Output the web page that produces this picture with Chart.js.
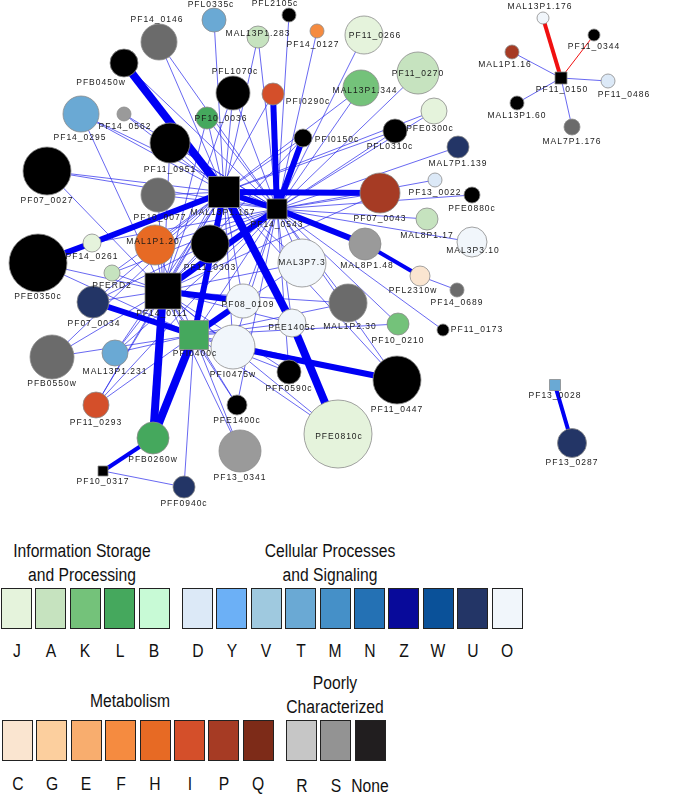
<!DOCTYPE html>
<html>
<head>
<meta charset="utf-8">
<script src="https://cdn.jsdelivr.net/npm/chart.js@4.4.1/dist/chart.umd.min.js"></script>
<style>
body { margin: 0; background: #fff; width: 685px; height: 794px; position: relative; overflow: hidden; font-family: "Liberation Sans", Arial, sans-serif; }
#wrap { position: absolute; left: 0; top: 0; width: 685px; height: 515px; }
.box { position: absolute; box-sizing: border-box; width: 31px; height: 41px; border: 1.5px solid #222; }
.txt { position: absolute; font-size: 18px; color: #111; transform: translate(-50%, -50%) scaleX(0.87); white-space: nowrap; }
</style>
</head>
<body>
<div id="wrap"><canvas id="netChart"></canvas></div>
<div id="legend"></div>
<script>
// network layout (node coordinates)
const nodeNames = [
    "PFL0335c", "PFL2105c", "MAL13P1.283", "PF14_0127", "PF11_0266", "PF14_0146",
    "PFB0450w", "PF14_0295", "PF14_0562", "PF10_0036", "PFL1070c", "PFI0290c",
    "MAL13P1.344", "PF11_0270", "PFE0300c", "PFL0310c", "PFI0150c", "MAL7P1.139",
    "PF11_0951", "PF07_0027", "PF10_0077", "MAL13P1.167", "PF14_0543", "PF07_0043",
    "PF13_0022", "PFE0880c", "MAL8P1.17", "MAL3P3.10", "PF14_0261", "MAL1P1.20",
    "PF11_0303", "PFE0350c", "PFERD2", "PF14_0111", "MAL3P7.3", "MAL8P1.48",
    "PFL2310w", "PF14_0689", "PF07_0034", "PF08_0109", "PFE1405c", "MAL1P2.30",
    "PF10_0210", "PF11_0173", "PFB0550w", "MAL13P1.231", "PFI0400c", "PFI0475w",
    "PFF0590c", "PF11_0447", "PFE1400c", "PFE0810c", "PF11_0293", "PFB0260w",
    "PF13_0341", "PF10_0317", "PFF0940c", "MAL13P1.176", "PF11_0344", "MAL1P1.16",
    "PF11_0150", "PF11_0486", "MAL13P1.60", "MAL7P1.176", "PF13_0028", "PF13_0287"
];
const nodeX = [
    214, 289, 258, 317, 364, 159,
    124, 81, 124, 207, 233, 273,
    361, 418, 434, 395, 303, 458,
    170, 47, 158, 224, 277, 380,
    435, 472, 427, 472, 92, 155,
    210, 38, 112, 163, 302, 365,
    420, 457, 93, 243, 292, 348,
    398, 443, 52, 115, 194, 233,
    289, 397, 237, 338, 96, 153,
    240, 103, 184, 543, 594, 512,
    561, 608, 517, 572, 555, 572
];
const nodeY = [
    20, 15, 37, 31, 35, 42,
    63, 114, 114, 118, 93, 94,
    88, 73, 111, 131, 138, 147,
    143, 171, 195, 192, 209, 193,
    180, 195, 219, 242, 243, 245,
    244, 263, 273, 291, 263, 244,
    276, 290, 302, 301, 323, 303,
    324, 330, 357, 353, 335, 347,
    372, 380, 405, 434, 405, 438,
    451, 471, 487, 18, 35, 52,
    78, 81, 103, 127, 385, 443
];
const nodeValue = [
    12, 7, 11, 7, 19, 18,
    14, 18, 7, 11, 17, 11,
    18, 21, 13, 12, 9, 11,
    20, 24, 17, 15.5, 10, 20,
    7, 8, 11, 15, 9, 20,
    19, 29, 8, 18, 24, 16,
    10, 7, 16, 17, 14, 19,
    11, 6, 22, 13, 14.5, 22,
    12, 24, 10, 34, 13, 16,
    21, 5, 11, 6, 6, 7,
    6, 7, 7, 8, 5.5, 14.5
];
const nodeCategory = [
    "T", "None", "A", "F", "J", "S",
    "None", "T", "R", "L", "None", "I",
    "K", "A", "J", "None", "None", "U",
    "None", "None", "S", "None", "None", "P",
    "D", "None", "A", "O", "J", "H",
    "None", "None", "A", "None", "O", "R",
    "C", "S", "U", "O", "O", "S",
    "K", "None", "S", "T", "L", "O",
    "None", "None", "None", "J", "I", "L",
    "R", "None", "U", "O", "None", "P",
    "None", "D", "None", "S", "T", "U"
];
const squareNodes = ["MAL13P1.167", "PF14_0543", "PF14_0111", "PFI0400c", "PF10_0317", "PF11_0150", "PF13_0028"];

// interactions: [from, to, weight]; negative weight = red link
const thickEdges = [
    ["PFB0450w", "MAL13P1.167", 4],
    ["MAL13P1.167", "PF07_0043", 3],
    ["MAL13P1.167", "PF14_0543", 3],
    ["PFI0290c", "PF14_0543", 3],
    ["PFI0150c", "PF14_0543", 3],
    ["PF14_0543", "MAL8P1.48", 3],
    ["MAL8P1.48", "PFL2310w", 2],
    ["MAL13P1.167", "PFE1405c", 4],
    ["PFE1405c", "PFE0810c", 4],
    ["PFE0350c", "PF14_0261", 3],
    ["PF14_0261", "MAL13P1.167", 3],
    ["PF14_0111", "PF14_0543", 3],
    ["PF14_0111", "PF08_0109", 3],
    ["PF07_0034", "PFI0400c", 3],
    ["PF14_0111", "PFB0260w", 4],
    ["PFI0400c", "PFB0260w", 4],
    ["PFB0260w", "PF10_0317", 2],
    ["PFI0400c", "MAL13P1.167", 3],
    ["PFI0400c", "PF08_0109", 3],
    ["PFI0475w", "PF11_0447", 3],
    ["PF13_0028", "PF13_0287", 2],
    ["PF11_0150", "MAL13P1.176", -2],
    ["PF11_0150", "PF11_0344", -1]
];
const thinEdges = [
    ["PFL0335c", "MAL13P1.167"], ["PFL2105c", "PF14_0543"],
    ["MAL13P1.283", "PF14_0543"], ["MAL13P1.283", "MAL13P1.167"],
    ["PF14_0127", "PF14_0543"], ["PF11_0266", "PF14_0543"],
    ["PF14_0146", "MAL13P1.167"], ["PF14_0146", "PF14_0543"],
    ["PFB0450w", "PF14_0543"],
    ["PF14_0295", "MAL13P1.167"], ["PF14_0295", "PF14_0543"], ["PF14_0295", "PF14_0111"],
    ["PF14_0562", "MAL13P1.167"], ["PF14_0562", "PF14_0543"],
    ["PF10_0036", "MAL13P1.167"], ["PF10_0036", "PF14_0543"], ["PF10_0036", "PF14_0111"],
    ["PFL1070c", "MAL13P1.167"], ["PFL1070c", "PF14_0543"], ["PFL1070c", "PF14_0111"],
    ["PFI0290c", "PF14_0111"],
    ["MAL13P1.344", "PF14_0543"], ["MAL13P1.344", "MAL13P1.167"],
    ["PF11_0270", "PF14_0543"],
    ["PFE0300c", "PF14_0543"], ["PFE0300c", "MAL13P1.167"],
    ["PFL0310c", "PF14_0543"], ["PFL0310c", "MAL13P1.167"],
    ["PFI0150c", "PF14_0111"], ["PFI0150c", "MAL13P1.167"],
    ["MAL7P1.139", "PF14_0543"],
    ["PF11_0951", "MAL13P1.167"], ["PF11_0951", "PF14_0543"], ["PF11_0951", "PF14_0111"],
    ["PF07_0027", "MAL13P1.167"], ["PF07_0027", "PF14_0543"], ["PF07_0027", "PF14_0111"],
    ["PF10_0077", "MAL13P1.167"], ["PF10_0077", "PF14_0543"], ["PF10_0077", "PF14_0111"],
    ["PF07_0043", "PF14_0543"], ["PF07_0043", "PF14_0111"],
    ["PF13_0022", "PF14_0543"], ["PFE0880c", "PF14_0543"],
    ["MAL8P1.17", "PF14_0543"], ["MAL3P3.10", "PF14_0543"],
    ["PF14_0261", "PF14_0543"],
    ["MAL1P1.20", "MAL13P1.167"], ["MAL1P1.20", "PF14_0543"], ["MAL1P1.20", "PF14_0111"], ["MAL1P1.20", "PFI0400c"],
    ["PF11_0303", "MAL13P1.167"], ["PF11_0303", "PF14_0543"], ["PF11_0303", "PF14_0111"], ["PF11_0303", "PFI0400c"],
    ["PFE0350c", "PF14_0111"], ["PFE0350c", "PFI0400c"],
    ["PFERD2", "MAL13P1.167"], ["PFERD2", "PF14_0543"], ["PFERD2", "PF14_0111"],
    ["MAL3P7.3", "MAL13P1.167"], ["MAL3P7.3", "PF14_0543"], ["MAL3P7.3", "PF14_0111"], ["MAL3P7.3", "PFI0400c"],
    ["PFL2310w", "PF14_0689"],
    ["PF07_0034", "MAL13P1.167"], ["PF07_0034", "PF14_0543"], ["PF07_0034", "PF14_0111"],
    ["PF08_0109", "MAL13P1.167"], ["PF08_0109", "PF14_0543"],
    ["PFE1405c", "PF14_0543"], ["PFE1405c", "PF14_0111"], ["PFE1405c", "PFI0400c"],
    ["MAL1P2.30", "PF14_0543"], ["MAL1P2.30", "PF14_0111"], ["MAL1P2.30", "PFI0400c"],
    ["PF10_0210", "PF14_0543"], ["PF10_0210", "PFI0400c"],
    ["PF11_0173", "PF14_0543"],
    ["PFB0550w", "MAL13P1.167"], ["PFB0550w", "PF14_0111"], ["PFB0550w", "PFI0400c"],
    ["MAL13P1.231", "MAL13P1.167"], ["MAL13P1.231", "PF14_0543"], ["MAL13P1.231", "PF14_0111"], ["MAL13P1.231", "PFI0400c"],
    ["PFI0475w", "MAL13P1.167"], ["PFI0475w", "PF14_0543"], ["PFI0475w", "PF14_0111"], ["PFI0475w", "PFI0400c"],
    ["PFF0590c", "PF14_0543"], ["PFF0590c", "PF14_0111"], ["PFF0590c", "PFI0400c"],
    ["PF11_0447", "MAL13P1.167"], ["PF11_0447", "PF14_0543"], ["PF11_0447", "PFI0400c"],
    ["PFE1400c", "PF14_0543"], ["PFE1400c", "PF14_0111"], ["PFE1400c", "PFI0400c"],
    ["PFE0810c", "PF14_0111"], ["PFE0810c", "PFI0400c"],
    ["PF11_0293", "MAL13P1.167"], ["PF11_0293", "PF14_0543"], ["PF11_0293", "PF14_0111"], ["PF11_0293", "PFI0400c"],
    ["PF13_0341", "PF14_0111"], ["PF13_0341", "PFI0400c"],
    ["PF10_0317", "PFF0940c"], ["PFF0940c", "PFI0400c"],
    ["MAL13P1.167", "PF14_0111"], ["PF14_0543", "PFI0400c"], ["PF14_0111", "PFI0400c"],
    ["PF11_0150", "MAL1P1.16"], ["PF11_0150", "PF11_0486"], ["PF11_0150", "MAL13P1.60"], ["PF11_0150", "MAL7P1.176"]
];

// COG legend
const legendGroups = [
    { title: ["Information Storage", "and Processing"], letters: ["J", "A", "K", "L", "B"] },
    { title: ["Cellular Processes", "and Signaling"], letters: ["D", "Y", "V", "T", "M", "N", "Z", "W", "U", "O"] },
    { title: ["Metabolism"], letters: ["C", "G", "E", "F", "H", "I", "P", "Q"] },
    { title: ["Poorly", "Characterized"], letters: ["R", "S", "None"] }
];

const cogColors = {
    J: "#e5f3dc", A: "#c6e3bf", K: "#74c27a", L: "#45a85d", B: "#c8fad6",
    D: "#dce9f7", Y: "#6cb0f6", V: "#9fc9df", T: "#6aa9d4", M: "#4590c8",
    N: "#2471b4", Z: "#080a9a", W: "#0a5199", U: "#233566", O: "#f1f6fb",
    C: "#fae5d0", G: "#fccf9e", E: "#f8ad6e", F: "#f58b40", H: "#e76a24",
    I: "#d44f2a", P: "#a63b24", Q: "#7d2b18",
    R: "#c6c6c6", S: "#939393", None: "#211e1f"
};
// nodes in the network use slightly darker greys
const nodeColors = Object.assign({}, cogColors, { R: "#9a9a9a", S: "#6b6b6b", None: "#000000" });

// label placement relative to each node (px)
const labelOffset = {
    "PFL0335c": [-3, -15], "PFL2105c": [-14, -11], "MAL13P1.283": [0, -3], "PF14_0127": [-4, 14],
    "PF11_0266": [11, 1], "PF14_0146": [-2, -22], "PFB0450w": [-23, 20], "PF14_0295": [-1, 24],
    "PF14_0562": [1, 13], "PF10_0036": [14, 1], "PFL1070c": [2, -21], "PFI0290c": [35, 8],
    "MAL13P1.344": [4, 3], "PF11_0270": [0, 1], "PFE0300c": [-4, 18], "PFL0310c": [-5, 16],
    "PFI0150c": [34, 2], "MAL7P1.139": [0, 17], "PF11_0951": [0, 27], "PF07_0027": [0, 30],
    "PF10_0077": [2, 23], "MAL13P1.167": [-1, 21], "PF14_0543": [0, 16], "PF07_0043": [0, 26],
    "PF13_0022": [0, 13], "PFE0880c": [0, 14], "MAL8P1.17": [0, 17], "MAL3P3.10": [1, 9],
    "PF14_0261": [0, 14], "MAL1P1.20": [-2, -3], "PF11_0303": [0, 24], "PFE0350c": [0, 34],
    "PFERD2": [0, 13], "PF14_0111": [-1, 23], "MAL3P7.3": [0, 0], "MAL8P1.48": [2, 22],
    "PFL2310w": [-7, 15], "PF14_0689": [0, 13], "PF07_0034": [1, 22], "PF08_0109": [5, 4],
    "PFE1405c": [0, 5], "MAL1P2.30": [2, 24], "PF10_0210": [0, 17], "PF11_0173": [34, 0],
    "PFB0550w": [0, 27], "MAL13P1.231": [0, 19], "PFI0400c": [1, 19], "PFI0475w": [0, 28],
    "PFF0590c": [0, 17], "PF11_0447": [0, 30], "PFE1400c": [0, 16], "PFE0810c": [1, 3],
    "PF11_0293": [0, 18], "PFB0260w": [0, 22], "PF13_0341": [0, 27], "PF10_0317": [0, 11],
    "PFF0940c": [0, 17], "MAL13P1.176": [-3, -11], "PF11_0344": [0, 12], "MAL1P1.16": [-7, 13],
    "PF11_0150": [1, 12], "PF11_0486": [16, 14], "MAL13P1.60": [0, 13], "MAL7P1.176": [0, 15],
    "PF13_0028": [0, 11], "PF13_0287": [0, 20]
};

function nodePoint(name) {
    const i = nodeNames.indexOf(name);
    return { x: nodeX[i], y: nodeY[i] };
}

const edgeDatasets = [];
thinEdges.forEach(function (e) {
    edgeDatasets.push({
        type: "line",
        data: [nodePoint(e[0]), nodePoint(e[1])],
        borderColor: "rgba(45,45,235,0.8)",
        borderWidth: 0.9,
        pointRadius: 0,
        fill: false,
        clip: false,
        order: 2,
    });
});
thickEdges.forEach(function (e) {
    const w = e[2];
    edgeDatasets.push({
        type: "line",
        data: [nodePoint(e[0]), nodePoint(e[1])],
        borderColor: w < 0 ? "#f01010" : "#0000f5",
        borderWidth: Math.abs(w) === 1 ? 1 : Math.abs(w) * 2,
        pointRadius: 0,
        fill: false,
        clip: false,
        order: 1,
    });
});

const nodeLabels = {
    id: "nodeLabels",
    afterDatasetsDraw: function (chart) {
        const ctx = chart.ctx;
        const xs = chart.scales.x;
        const ys = chart.scales.y;
        ctx.save();
        ctx.font = "8.5px 'Liberation Sans', Arial, sans-serif";
        ctx.letterSpacing = "1px";
        ctx.fillStyle = "#1a1a1a";
        ctx.textAlign = "center";
        ctx.textBaseline = "middle";
        nodeNames.forEach(function (name, i) {
            const off = labelOffset[name] || [0, 14];
            ctx.fillText(name, xs.getPixelForValue(nodeX[i]) + off[0], ys.getPixelForValue(nodeY[i]) + off[1]);
        });
        ctx.restore();
    },
};

const ctx = document.getElementById("netChart").getContext("2d");
const netChart = new Chart(ctx, {
    type: "bubble",
    data: {
        datasets: [
            {
                data: nodeNames.map(function (n, i) {
                    const sq = squareNodes.indexOf(n) >= 0;
                    return { x: nodeX[i], y: nodeY[i], r: sq ? nodeValue[i] / Math.SQRT1_2 : nodeValue[i] };
                }),
                backgroundColor: nodeCategory.map(function (c) { return nodeColors[c]; }),
                borderColor: "#8c8c8c",
                borderWidth: 0.8,
                pointStyle: nodeNames.map(function (n) { return squareNodes.indexOf(n) >= 0 ? "rect" : "circle"; }),
                clip: false,
                order: 0,
            },
        ].concat(edgeDatasets),
    },
    options: {
        responsive: true,
        maintainAspectRatio: false,
        animation: false,
        events: [],
        layout: { padding: 0, autoPadding: false },
        plugins: {
            legend: { display: false },
            tooltip: { enabled: false },
        },
        scales: {
            x: { type: "linear", min: 0, max: 685, display: false },
            y: { type: "linear", min: 0, max: 515, reverse: true, display: false },
        },
    },
    plugins: [nodeLabels],
});

// legend placement
const groupLeft = [1, 182, 2, 286];
const groupBoxTop = [588, 588, 720, 720];
const groupTitleX = [82, 330, 130, 335];
const groupTitleY = [[551, 575], [551, 575], [701], [683, 707]];
const groupLetterY = [651, 651, 784, 786];
const pitch = 34.4;
const legend = document.getElementById("legend");
legendGroups.forEach(function (g, gi) {
    g.title.forEach(function (line, li) {
        const t = document.createElement("div");
        t.className = "txt";
        t.textContent = line;
        t.style.left = groupTitleX[gi] + "px";
        t.style.top = groupTitleY[gi][li] + "px";
        legend.appendChild(t);
    });
    g.letters.forEach(function (letter, k) {
        const left = groupLeft[gi] + k * pitch;
        const b = document.createElement("div");
        b.className = "box";
        b.style.left = left + "px";
        b.style.top = groupBoxTop[gi] + "px";
        b.style.background = cogColors[letter];
        legend.appendChild(b);
        const t = document.createElement("div");
        t.className = "txt";
        t.textContent = letter;
        t.style.left = (left + 15.5) + "px";
        t.style.top = groupLetterY[gi] + "px";
        legend.appendChild(t);
    });
});
</script>
</body>
</html>
